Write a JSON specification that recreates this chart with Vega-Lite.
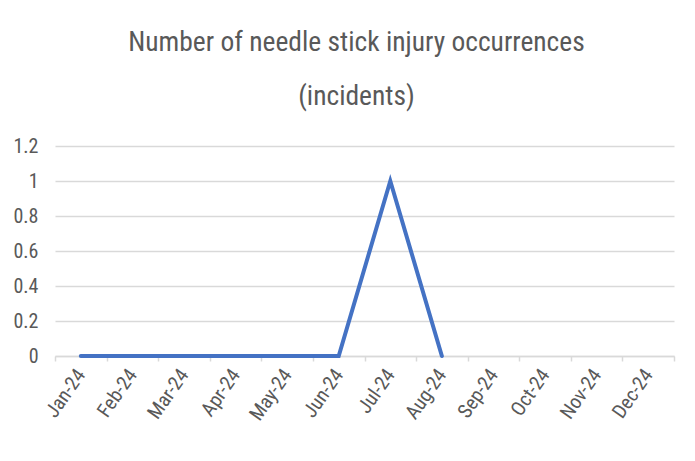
{
  "$schema": "https://vega.github.io/schema/vega-lite/v6.json",
  "width": 619,
  "height": 210,
  "autosize": {"type": "none"},
  "padding": {"left": 55, "top": 146, "right": 21, "bottom": 105},
  "background": "white",
  "title": {
    "text": ["Number of needle stick injury occurrences", "(incidents)"],
    "font": "Roboto Condensed, Roboto",
    "fontSize": 27.5,
    "fontWeight": "normal",
    "color": "#595959",
    "lineHeight": 54,
    "anchor": "middle",
    "dx": -8,
    "offset": 26
  },
  "data": {
    "values": [
      {"month": "Jan-24", "incidents": 0},
      {"month": "Feb-24", "incidents": 0},
      {"month": "Mar-24", "incidents": 0},
      {"month": "Apr-24", "incidents": 0},
      {"month": "May-24", "incidents": 0},
      {"month": "Jun-24", "incidents": 0},
      {"month": "Jul-24", "incidents": 1},
      {"month": "Aug-24", "incidents": 0},
      {"month": "Sep-24", "incidents": null},
      {"month": "Oct-24", "incidents": null},
      {"month": "Nov-24", "incidents": null},
      {"month": "Dec-24", "incidents": null}
    ]
  },
  "mark": {"type": "line", "color": "#4472C4", "strokeWidth": 4, "strokeCap": "round", "strokeJoin": "miter"},
  "encoding": {
    "x": {
      "field": "month",
      "type": "ordinal",
      "bandPosition": 0.5,
      "sort": null,
      "scale": {
        "type": "band",
        "paddingInner": 0,
        "paddingOuter": 0,
        "domain": ["Jan-24", "Feb-24", "Mar-24", "Apr-24", "May-24", "Jun-24", "Jul-24", "Aug-24", "Sep-24", "Oct-24", "Nov-24", "Dec-24"]
      },
      "axis": {
        "title": null,
        "labelAngle": -55,
        "labelFont": "Roboto Condensed, Roboto",
        "labelFontSize": 20,
        "labelColor": "#595959",
        "labelPadding": 10,
        "tickBand": "extent",
        "tickColor": "#D9D9D9",
        "tickWidth": 1.5,
        "tickSize": 5,
        "domainColor": "#D9D9D9",
        "domainWidth": 1.5,
        "grid": false
      }
    },
    "y": {
      "field": "incidents",
      "type": "quantitative",
      "scale": {"domain": [0, 1.2], "nice": false},
      "axis": {
        "title": null,
        "values": [0, 0.2, 0.4, 0.6, 0.8, 1, 1.2],
        "format": "~g",
        "labelFont": "Roboto Condensed, Roboto",
        "labelFontSize": 20,
        "labelColor": "#595959",
        "labelPadding": 17,
        "ticks": false,
        "domain": false,
        "grid": true,
        "gridColor": "#D9D9D9",
        "gridWidth": 1.5
      }
    }
  },
  "config": {"view": {"stroke": null}}
}
